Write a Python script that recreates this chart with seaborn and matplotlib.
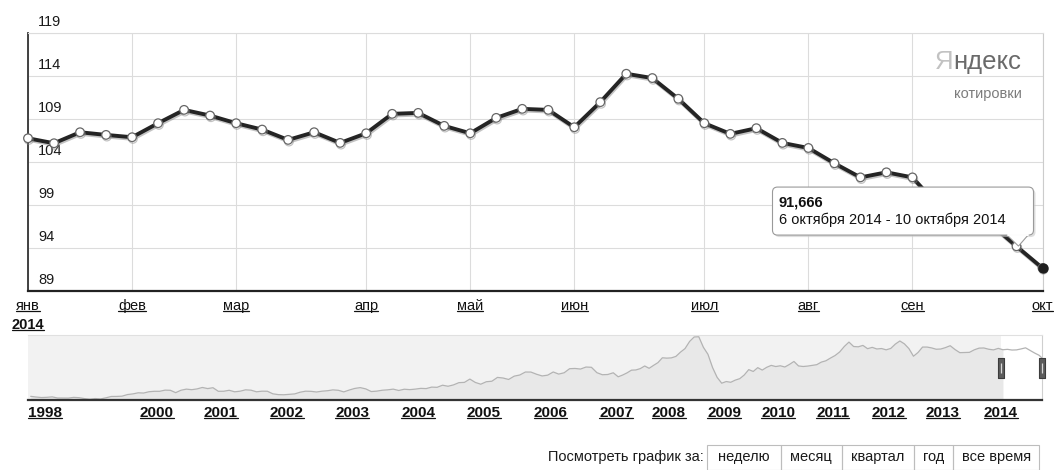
import numpy as np
import pandas as pd
import matplotlib
matplotlib.use('Agg')
import matplotlib.pyplot as plt
import matplotlib.transforms as mtransforms
import matplotlib.patheffects as pe
import matplotlib.dates as mdates
from matplotlib.patches import FancyBboxPatch, Rectangle, Polygon
from matplotlib.lines import Line2D
from matplotlib.path import Path
import seaborn as sns

# ==========================================
# data
# ==========================================
# weekly quotes, 2014 (week starting Monday)
week_start = '2014-01-06'
week_values = [106.76, 106.18, 107.46, 107.15, 106.88, 108.51, 110.06, 109.40, 108.51, 107.77,
               106.57, 107.46, 106.22, 107.34, 109.60, 109.71, 108.20, 107.34, 109.13, 110.18,
               110.06, 108.04, 110.96, 114.26, 113.76, 111.35, 108.51, 107.27, 107.93, 106.22,
               105.63, 103.85, 102.21, 102.80, 102.21, 98.90, 97.90, 96.80, 94.20, 91.666]
month_names = ['янв', 'фев', 'мар', 'апр', 'май', 'июн', 'июл', 'авг', 'сен', 'окт', 'ноя', 'дек']
month_gen = ['января', 'февраля', 'марта', 'апреля', 'мая', 'июня', 'июля', 'августа',
             'сентября', 'октября', 'ноября', 'декабря']
y_ticks = [89, 94, 99, 104, 109, 114, 119]

# navigator: monthly values 1998-01 .. 2014-10
nav_start = '1998-01'
nav_values = [
    15.5, 14.1, 13.1, 13.5, 14.4, 12.2, 12.1, 12.0, 13.4, 12.8, 11.0, 9.8,      # 1998
    11.1, 10.3, 12.5, 15.2, 15.3, 15.8, 19.0, 20.3, 22.5, 22.0, 24.6, 25.5,     # 1999
    25.5, 27.8, 27.5, 22.8, 27.6, 29.8, 28.7, 30.2, 33.1, 30.9, 32.6, 25.5,     # 2000
    25.6, 27.5, 24.5, 25.7, 28.4, 27.7, 24.5, 25.7, 25.6, 20.5, 18.9, 18.6,     # 2001
    19.4, 20.3, 23.7, 25.7, 25.4, 24.1, 25.7, 26.6, 28.3, 27.5, 24.3, 28.0,     # 2002
    31.2, 32.8, 30.3, 25.0, 25.8, 27.6, 28.4, 29.8, 27.1, 29.6, 28.8, 29.8,     # 2003
    31.3, 30.9, 33.8, 33.4, 37.6, 35.5, 38.2, 42.7, 43.2, 49.8, 43.1, 39.6,     # 2004
    44.5, 45.5, 53.1, 51.9, 49.0, 55.6, 57.9, 63.8, 63.7, 59.4, 56.0, 57.6,     # 2005
    63.9, 59.7, 62.3, 70.4, 70.9, 69.7, 73.7, 73.2, 62.5, 58.4, 58.9, 62.3,     # 2006
    54.3, 57.8, 62.1, 67.5, 67.9, 70.6, 75.8, 71.2, 77.0, 82.5, 92.1, 91.4,     # 2007
    91.9, 94.8, 103.3, 110.4, 124.6, 133.5, 133.9, 113.0, 99.0, 72.8, 53.2, 41.6,  # 2008
    44.9, 43.4, 47.7, 50.6, 57.9, 68.6, 64.9, 72.5, 67.7, 73.2, 77.0, 74.7,     # 2009
    76.2, 73.8, 78.8, 84.8, 75.9, 74.8, 75.6, 77.1, 78.4, 83.5, 86.1, 91.5,     # 2010
    96.5, 103.7, 114.6, 123.3, 114.5, 113.9, 116.7, 110.2, 112.8, 109.6, 110.5, 107.9,  # 2011
    110.7, 119.3, 125.5, 119.8, 110.3, 95.2, 102.6, 113.4, 113.4, 111.7, 109.1, 109.5,  # 2012
    112.3, 116.1, 108.5, 102.3, 102.6, 102.9, 107.9, 111.3, 111.6, 109.1, 107.8, 110.8,  # 2013
    108.1, 108.9, 107.5, 107.8, 109.7, 111.9, 106.8, 101.6, 97.1, 91.7,                 # 2014
]
nav_years = [1998, 2000, 2001, 2002, 2003, 2004, 2005, 2006, 2007, 2008,
             2009, 2010, 2011, 2012, 2013, 2014]
# the strip is not linear in time: where each year starts along it (px from its left edge)
nav_year_pos = [0, 129, 193, 258.5, 324, 390, 455.5, 522.5, 588, 641,
                696, 750, 804.7, 860.5, 915, 972.7]
nav_end_pos = 1014

period_buttons = ['неделю', 'месяц', 'квартал', 'год', 'все время']

# ==========================================
# style
# ==========================================
sns.set_theme(style='white')
plt.rcParams['font.family'] = ['Liberation Sans', 'DejaVu Sans']
plt.rcParams['axes.unicode_minus'] = False

W, H = 1054, 470
fig = plt.figure(figsize=(W / 100, H / 100), dpi=100)
ident = mtransforms.IdentityTransform()


def box(l, t, r, b):
    return [l / W, 1 - b / H, (r - l) / W, (b - t) / H]


ax = fig.add_axes(box(28, 33, 1042.5, 291))
ax_nav = fig.add_axes(box(28, 335, 1042, 400))

# ==========================================
# main chart
# ==========================================
weeks = pd.date_range(week_start, periods=len(week_values), freq='7D')
df = pd.DataFrame({'date': weeks, 'value': week_values})

sns.lineplot(data=df, x='date', y='value', ax=ax, color='#242424', lw=2.8,
             marker='o', markersize=6.2, markerfacecolor='white',
             markeredgecolor='#666666', markeredgewidth=0.9, clip_on=False, zorder=5,
             path_effects=[pe.SimpleLineShadow(offset=(0.6, -1.2), shadow_color='#888888', alpha=0.5),
                           pe.Normal()])
ax.plot(weeks[-1], week_values[-1], 'o', color='#1e1e1e', ms=6.5, clip_on=False, zorder=6)

ax.set_xlim(weeks[0], weeks[-1])
ax.set_ylim(y_ticks[0], y_ticks[-1])
ax.set_xlabel('')
ax.set_ylabel('')

first_week = df.groupby(df['date'].dt.month)['date'].min()
ax.set_xticks(first_week.values)
ax.set_xticklabels([month_names[m - 1] for m in first_week.index])
ax.set_yticks(y_ticks)
ax.tick_params(axis='y', labelleft=False, length=0)
ax.tick_params(axis='x', length=0, labelsize=10.5, pad=5.5, labelcolor='#111111')
ax.grid(True, color='#dcdcdc', lw=0.8)
ax.set_axisbelow(True)

for side, col, lw in [('left', '#333333', 1.3), ('bottom', '#222222', 1.6),
                      ('top', '#dcdcdc', 0.8), ('right', '#cccccc', 0.8)]:
    ax.spines[side].set_color(col)
    ax.spines[side].set_linewidth(lw)
    ax.spines[side].set_visible(True)

# value labels sit inside the plot, just above their grid lines
ylab_tr = mtransforms.offset_copy(
    mtransforms.blended_transform_factory(ax.transAxes, ax.transData), y=7, units='dots')
for v in y_ticks:
    ax.text(0.0098, v, str(v), transform=ylab_tr, fontsize=10.5, color='#1a1a1a',
            ha='left', va='baseline', clip_on=False)

year_lbl = ax.annotate(str(weeks[0].year), xy=(mdates.date2num(weeks[0]), 0),
                       xycoords=('data', 'axes fraction'), xytext=(0, -38),
                       textcoords='offset pixels', ha='center', va='baseline',
                       fontsize=10.5, fontweight='bold', color='#111111')

# logo
logo = fig.text(1021, H - 69, 'ндекс', transform=ident, ha='right', va='baseline',
                fontsize=18.5, color='#6a6a6a', family=['Liberation Sans Narrow', 'Liberation Sans'])
fig.text(1022, H - 98, 'котировки', transform=ident, ha='right', va='baseline',
         fontsize=10.5, color='#7c7c7c')

# ==========================================
# navigator
# ==========================================
nav_months = pd.period_range(nav_start, periods=len(nav_values), freq='M')
nav_x = np.asarray(nav_months.year + (nav_months.month - 0.5) / 12, dtype=float)
nav_v = np.asarray(nav_values, dtype=float)


def year_frac(ts):
    return ts.year + (ts.dayofyear - 1) / 365.0


sel_start = year_frac(weeks[0])
nav_end = year_frac(weeks[-1])
anchor_years = np.array(nav_years + [nav_end], dtype=float)
anchor_pos = np.array(nav_year_pos + [nav_end_pos], dtype=float)

ax_nav.set_xscale('function', functions=(lambda x: np.interp(x, anchor_years, anchor_pos),
                                         lambda p: np.interp(p, anchor_pos, anchor_years)))
nav_lo, nav_hi = nav_v.min() - 1.6, nav_v.max() + 3.5
ax_nav.axvspan(nav_years[0], sel_start, color='#f2f2f2', lw=0, zorder=0)
ax_nav.fill_between(nav_x, nav_lo, nav_v, where=nav_x <= sel_start + 0.05,
                    color='#e8e8e8', lw=0, zorder=1)
sns.lineplot(x=nav_x, y=nav_v, ax=ax_nav, color='#b3b3b3', lw=0.9, zorder=2)

ax_nav.set_xlim(nav_years[0], nav_end)
ax_nav.set_ylim(nav_lo, nav_hi)
ax_nav.set_yticks([])
ax_nav.set_xticks(nav_years)
ax_nav.set_xticklabels([str(y) for y in nav_years])
ax_nav.tick_params(axis='x', length=0, labelsize=11, pad=4, labelcolor='#111111')
for t in ax_nav.get_xticklabels():
    t.set_fontweight('bold')
ax_nav.get_xticklabels()[0].set_ha('left')
ax_nav.set_xlabel('')
ax_nav.set_ylabel('')
ax_nav.spines['left'].set_visible(False)
ax_nav.spines['top'].set_color('#e0e0e0')
ax_nav.spines['top'].set_linewidth(0.8)
ax_nav.spines['right'].set_color('#cfcfcf')
ax_nav.spines['right'].set_linewidth(0.8)
ax_nav.spines['bottom'].set_color('#333333')
ax_nav.spines['bottom'].set_linewidth(1.6)

# selection handles
handle = Path([(-0.3, -1), (0.3, -1), (0.3, 1), (-0.3, 1), (-0.3, -1)],
              [Path.MOVETO, Path.LINETO, Path.LINETO, Path.LINETO, Path.CLOSEPOLY])
htr = mtransforms.blended_transform_factory(ax_nav.transData, ax_nav.transAxes)
for hx in [sel_start, nav_end]:
    ax_nav.plot([hx], [0.5], marker=handle, ms=14, mfc='#5c5c5c', mec='#3c3c3c', mew=0.8,
                transform=htr, clip_on=False, zorder=6)
    ax_nav.plot([hx], [0.5], marker='|', ms=7, mec='#d8d8d8', mew=0.9,
                transform=htr, clip_on=False, zorder=7)

# ==========================================
# period buttons
# ==========================================
fig.text(704 / W, 1 - 457 / H, 'Посмотреть график за:', ha='right', va='center',
         fontsize=10.5, color='#1a1a1a')
cell_edges = [707, 780.6, 841.9, 914, 953.2, 1039]
for lbl, l, r in zip(period_buttons, cell_edges[:-1], cell_edges[1:]):
    fig.add_artist(Rectangle((l / W, 1 - 469.5 / H), (r - l) / W, 25 / H,
                             transform=fig.transFigure, fill=False, ec='#bdbdbd', lw=0.8))
    fig.text((l + r) / 2 / W, 1 - 457 / H, lbl, ha='center', va='center',
             fontsize=10.5, color='#1a1a1a')

# ==========================================
# tooltip for the last week
# ==========================================
fig.canvas.draw()
px, py = ax.transData.transform((mdates.date2num(weeks[-1]), week_values[-1]))
x0, x1 = px - 270, px - 9
y0, y1 = py + 33, py + 81
fig.add_artist(FancyBboxPatch((x0 + 2, y0 - 2), x1 - x0, y1 - y0,
                              boxstyle='round,pad=0,rounding_size=5', transform=ident,
                              fc='#c8c8c8', ec='none', alpha=0.6, zorder=20))
fig.add_artist(Polygon([(px - 36, y0 + 0.5), (px - 24, py + 22), (px - 14, y0 + 0.5)],
                       closed=True, transform=ident, fc='white', ec='#9a9a9a', lw=0.8, zorder=21))
fig.add_artist(FancyBboxPatch((x0, y0), x1 - x0, y1 - y0,
                              boxstyle='round,pad=0,rounding_size=5', transform=ident,
                              fc='white', ec='#9a9a9a', lw=0.8, zorder=22))
fig.add_artist(Line2D([px - 35, px - 15], [y0, y0], transform=ident, color='white', lw=1.4, zorder=23))
d0, d1 = weeks[-1], weeks[-1] + pd.Timedelta(days=4)
fig.text(x0 + 6, y1 - 19, f"{week_values[-1]:.3f}".replace('.', ','), transform=ident,
         fontsize=10.5, fontweight='bold', color='#111111', va='baseline', zorder=24)
fig.text(x0 + 6, y1 - 37,
         f"{d0.day} {month_gen[d0.month - 1]} {d0.year} - {d1.day} {month_gen[d1.month - 1]} {d1.year}",
         transform=ident, fontsize=10.5, color='#111111', va='baseline', zorder=24)

# ==========================================
# logo first letter + underlined links
# ==========================================
r = fig.canvas.get_renderer()
lb = logo.get_window_extent(r)
fig.text(lb.x0 + 0.5, H - 69, 'Я', transform=ident, ha='right', va='baseline',
         fontsize=18.5, color='#c2c2c2', family=['Liberation Sans Narrow', 'Liberation Sans'])

links = list(ax.get_xticklabels()) + [year_lbl] + list(ax_nav.get_xticklabels())
for t in links:
    bb = t.get_window_extent(r)
    if bb.width < 1:
        continue
    fig.add_artist(Line2D([bb.x0, bb.x1], [bb.y0 + 2, bb.y0 + 2], transform=ident,
                          color=t.get_color(), lw=0.9))

fig.savefig('out.png', dpi=100, facecolor='white')
